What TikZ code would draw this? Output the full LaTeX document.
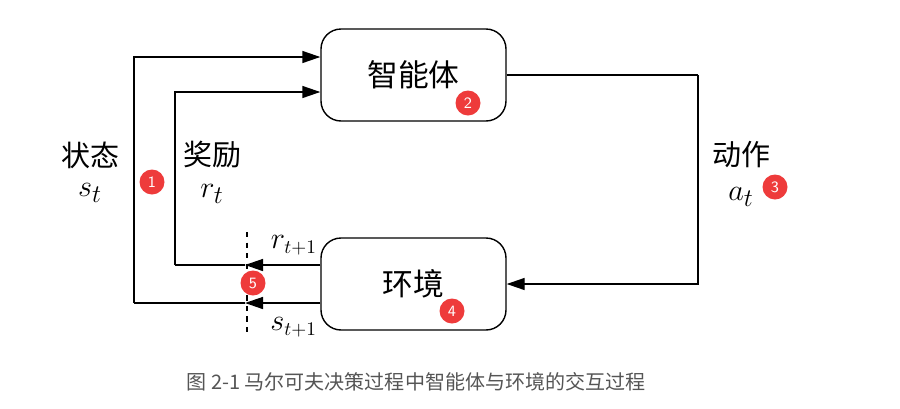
\documentclass[tikz,border=0pt]{standalone}
\usepackage{amsmath}
\usepackage{fontspec}
\usepackage{tikz}
\usetikzlibrary{arrows.meta}
\newfontfamily\cjk{Noto Sans CJK SC}
\definecolor{badgered}{HTML}{EE3B3B}
\definecolor{capgray}{HTML}{555555}

\begin{document}
\begin{tikzpicture}[
        box/.style={
            rectangle,
            draw,
            thick,
            rounded corners=0.4cm,
            minimum width=3.7cm,
            minimum height=1.84cm,
            font=\cjk\fontsize{17.5}{20}\selectfont
        },
        label/.style={
            align=center,
            font=\cjk\fontsize{16.5}{19}\selectfont
        },
        mathlabel/.style={
            font=\fontsize{19}{21}\selectfont
        },
        steplabel/.style={
            font=\fontsize{16}{18}\selectfont,
            anchor=east
        },
        badge/.style={
            circle,
            fill=badgered,
            text=white,
            inner sep=0pt,
            minimum size=0.5cm,
            font=\sffamily\small
        },
        arrow/.style={
            -{Triangle[length=0.36cm,width=0.24cm]},
            thick
        },
        line/.style={
            thick
        }
    ]

        \useasboundingbox (0,0) rectangle (18,-8.16);

        \node[box] (agent) at (8.27,-1.5) {智能体};
        \node[box] (env) at (8.27,-5.68) {环境};

        % corners of the loops
        \coordinate (actcorner) at (13.96,-1.5);
        \coordinate (souter) at (2.68,-6.06);
        \coordinate (router) at (3.5,-5.3);
        \coordinate (scut) at (4.9,-6.06);
        \coordinate (rcut) at (4.9,-5.3);
        \coordinate (cuttop) at (4.94,-4.64);
        \coordinate (cutbot) at (4.94,-6.64);

        \draw[line] (agent.east) -- (actcorner);
        \draw[arrow] (actcorner) |- (env.east);

        \draw[arrow] (env.west |- scut) -- (scut);
        \draw[line] (scut) -- (souter);
        \draw[arrow] (souter) |- ([yshift=0.36cm]agent.west);

        \draw[arrow] (env.west |- rcut) -- (rcut);
        \draw[line] (rcut) -- (router);
        \draw[arrow] (router) |- ([yshift=-0.34cm]agent.west);

        \draw[thick,dashed] (cuttop) -- (cutbot);

        \node[label] (state) at (1.8,-3.1) {状态};
        \node[mathlabel] (stateval) at (1.8,-3.86) {$s_t$};
        \node[label] (reward) at (4.24,-3.1) {奖励};
        \node[mathlabel] (rewardval) at (4.24,-3.88) {$r_t$};
        \node[label] (action) at (14.82,-3.1) {动作};
        \node[mathlabel] (actionval) at (14.82,-3.94) {$a_t$};
        \node[steplabel] (rnext) at (6.46,-4.9) {$r_{t+1}$};
        \node[steplabel] (snext) at (6.46,-6.54) {$s_{t+1}$};

        \node[badge] (b1) at (3.04,-3.64) {1};
        \node[badge] (b2) at (9.36,-2.06) {2};
        \node[badge] (b3) at (15.5,-3.74) {3};
        \node[badge] (b4) at (9.04,-6.22) {4};
        \node[badge] (b5) at (5.06,-5.66) {5};

        \node[font=\cjk\fontsize{11.4}{13}\selectfont,text=capgray] (caption) at (8.32,-7.64) {图 2-1 马尔可夫决策过程中智能体与环境的交互过程};

    \end{tikzpicture}
\end{document}
